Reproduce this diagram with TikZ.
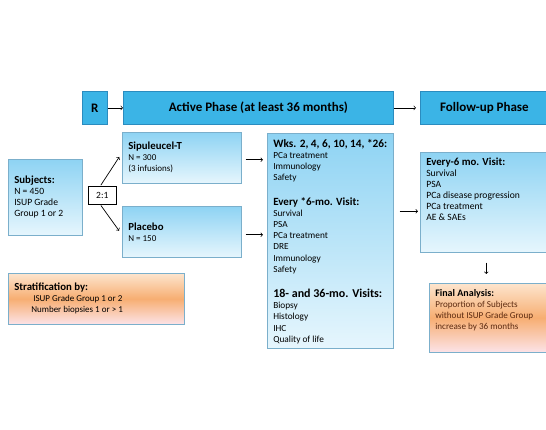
\documentclass[tikz,border=0pt]{standalone}
\usepackage{fontspec}
\setmainfont{Carlito}
\usetikzlibrary{arrows,positioning}

\definecolor{barblue}{HTML}{3BB4E6}
\definecolor{barline}{HTML}{2B8CBF}
\definecolor{paneltop}{HTML}{8ED3F3}
\definecolor{panelbot}{HTML}{E6F6FD}
\definecolor{panelline}{HTML}{7BAFCB}
\definecolor{warmtop}{HTML}{FDE5CE}
\definecolor{warmmid}{HTML}{F7AE72}
\definecolor{warmbot}{HTML}{FCE3E8}
\definecolor{finaltext}{HTML}{5C2A10}

\newcommand{\boxtext}[4]{\parbox[t][#3pt][#1]{#2pt}{\raggedright\fontsize{9}{11}\selectfont #4}}
\newcommand{\head}[1]{{\fontsize{10.8}{11}\selectfont\bfseries #1}}
\newcommand{\bigtext}{\fontsize{9.6}{11}\selectfont}

\begin{document}
\begin{tikzpicture}[x=1pt,y=-1pt,
	bar/.style={rectangle,draw=barline,fill=barblue,line width=0.8pt,minimum height=33pt,inner sep=0pt,anchor=north west,font=\fontsize{13}{15}\selectfont\bfseries},
	panel/.style={rectangle,draw=panelline,top color=paneltop,bottom color=panelbot,line width=0.6pt,inner sep=6pt,anchor=north west},
	warm/.style={rectangle,draw=panelline,top color=warmtop,bottom color=warmbot,middle color=warmmid,line width=0.6pt,inner sep=6pt,anchor=north west},
	link/.style={->,line width=0.7pt}]
		\useasboundingbox (0,0) rectangle (546,430);
		\clip (0,0) rectangle (546,430);
		% phase bar
		\node at (82,91) [bar, minimum width=25pt] (R) {R};
		\node at (123,91) [bar, minimum width=270pt] (active) {Active Phase (at least 36 months)};
		\node at (420,91) [bar, minimum width=128pt] (follow) {Follow-up Phase};
		% randomisation
		\node at (8,159) [panel] (subjects) {\boxtext{c}{62}{64}{\bigtext\head{Subjects:}\\ N = 450\\ ISUP Grade\\ Group 1 or 2}};
		\node at (88,186) [rectangle, draw, fill=white, line width=0.6pt, minimum width=28pt, minimum height=18pt, inner sep=0pt, anchor=north west, font=\fontsize{9.5}{11}\selectfont] (ratio) {2:1};
		\node at (122,132) [panel] (sipuleucel) {\boxtext{c}{107}{39}{\head{Sipuleucel-T}\\ N = 300\\ (3 infusions)}};
		\node at (122,206) [panel] (placebo) {\boxtext{c}{107}{39}{\head{Placebo}\\ N = 150}};
		\node at (8,273) [warm] (strat) {\boxtext{c}{164}{39}{\head{Stratification by:}\\ \hspace*{19pt}ISUP Grade Group 1 or 2\\ \hspace*{17pt}Number biopsies 1 or > 1}};
		% visits
		\node at (267,133) [panel] (visits) {\boxtext{t}{114}{203}{\fontsize{9.3}{11.2}\selectfont
			{\fontsize{11.3}{11}\selectfont\bfseries Wks. 2, 4, 6, 10, 14, *26:}\\ PCa treatment\\ Immunology\\ Safety\\[13pt]
			{\fontsize{11}{11}\selectfont\bfseries Every *6-mo. Visit:}\\ Survival\\ PSA\\ PCa treatment\\ DRE\\ Immunology\\ Safety\\[14pt]
			{\fontsize{12}{11}\selectfont\bfseries 18- and 36-mo. Visits:}\\ Biopsy\\ Histology\\ IHC\\ Quality of life}};
		\node at (420,152) [panel] (followvisit) {\boxtext{t}{120}{88}{\bigtext\head{Every-6 mo. Visit:}\\ Survival\\ PSA\\ PCa disease progression\\ PCa treatment\\ AE \& SAEs}};
		\node at (429,283) [warm] (final) {\boxtext{t}{125}{57}{\fontsize{9.1}{11}\selectfont{\fontsize{10}{11}\selectfont\bfseries Final Analysis:}\\ \color{finaltext}Proportion of Subjects\\ without ISUP Grade Group\\ increase by 36 months}};
		% connectors
		\draw[link] (R) -- (active);
		\draw[link, shorten >=4pt] (active) -- (follow);
		\draw[link, shorten <=1pt, shorten >=5pt] ([xshift=-2pt]ratio.north) -- ([yshift=5pt]sipuleucel.west);
		\draw[link, shorten <=1pt, shorten >=5pt] ([xshift=-2pt]ratio.south) -- ([yshift=-3pt]placebo.west);
		\draw[link, shorten <=4pt, shorten >=4pt] ([yshift=-2pt]sipuleucel.east) -- ([yshift=-2pt]sipuleucel.east -| visits.west);
		\draw[link, shorten <=4pt, shorten >=4pt] ([yshift=-3pt]placebo.east) -- ([yshift=-3pt]placebo.east -| visits.west);
		\draw[link, shorten <=6pt, shorten >=2pt] ([yshift=-9pt]followvisit.west -| visits.east) -- ([yshift=-9pt]followvisit.west);
		\draw[link, shorten <=10pt, shorten >=9pt] (followvisit.south) -- (followvisit.south |- final.north);
\end{tikzpicture}
\end{document}
